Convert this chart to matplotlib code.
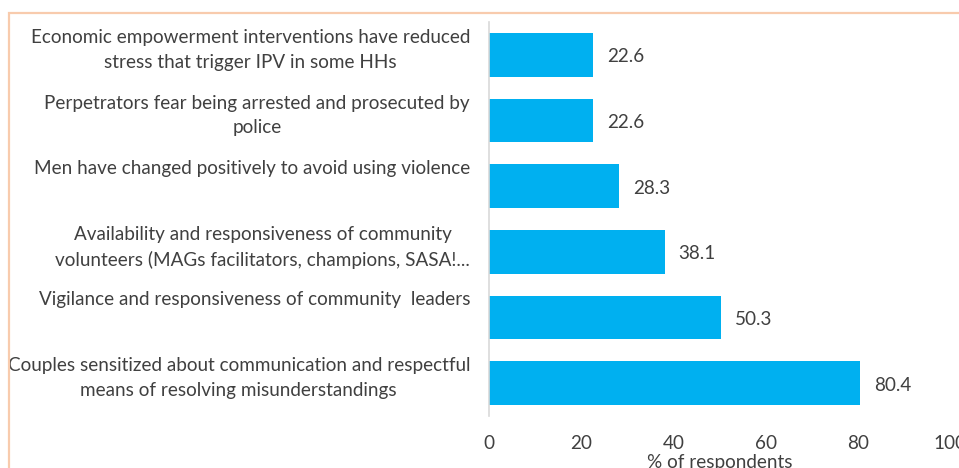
import matplotlib
matplotlib.use("Agg")
import matplotlib.pyplot as plt
from matplotlib.patches import Rectangle

plt.rcParams["font.family"] = ["Lato", "DejaVu Sans"]

# top to bottom, as in the reference
categories = [
    "Economic empowerment interventions have reduced\nstress that trigger IPV in some HHs",
    "Perpetrators fear being arrested and prosecuted by\npolice",
    "Men have changed positively to avoid using violence",
    "Availability and responsiveness of community\nvolunteers (MAGs facilitators, champions, SASA!...",
    "Vigilance and responsiveness of community  leaders",
    "Couples sensitized about communication and respectful\nmeans of resolving misunderstandings",
]
values = [22.6, 22.6, 28.3, 38.1, 50.3, 80.4]
x_ticks = [0, 20, 40, 60, 80, 100]

BAR_COLOR = "#00B0F0"
TEXT_COLOR = "#404040"
FS = 13.6

W, H = 959, 468
fig = plt.figure(figsize=(W / 100, H / 100), dpi=100)
ax = fig.add_axes([489 / W, 1 - 416 / H, 461 / W, 394 / H])

pos = list(range(len(categories)))
ax.barh(pos, values, height=0.66, color=BAR_COLOR)
ax.set_ylim(len(categories) - 0.5, -0.5)
ax.set_xlim(0, 100)

ax.set_yticks(pos)
ax.set_yticklabels([])
ax.tick_params(axis="y", length=0)
for i, lab in enumerate(categories):
    ax.annotate(lab, xy=(0, i), xycoords=("axes fraction", "data"),
                xytext=(-19, 26), textcoords="offset pixels",
                ha="right", va="top", multialignment="center",
                fontsize=FS, color=TEXT_COLOR, linespacing=1.55)

for i, v in enumerate(values):
    ax.annotate(f"{v:.1f}", xy=(v, i), xytext=(14, -2), textcoords="offset pixels",
                ha="left", va="center", fontsize=FS, color=TEXT_COLOR)

ax.set_xticks(x_ticks)
ax.set_xticklabels([str(t) for t in x_ticks])
ax.tick_params(axis="x", length=0, labelsize=FS, labelcolor=TEXT_COLOR, pad=14)
ax.set_xlabel("% of respondents", fontsize=FS, color=TEXT_COLOR, labelpad=1)

for s in ["top", "right", "bottom"]:
    ax.spines[s].set_visible(False)
ax.spines["left"].set_color("#D9D9D9")
ax.spines["left"].set_linewidth(1.2)

# chart-area border, cropped at right and bottom in the reference
fig.patches.append(Rectangle((9 / W, -0.1), 1.2, 1 - 13 / H + 0.1,
                             transform=fig.transFigure, fill=False,
                             edgecolor="#F8CBAD", linewidth=1.6))

fig.savefig("out.png", dpi=100)
